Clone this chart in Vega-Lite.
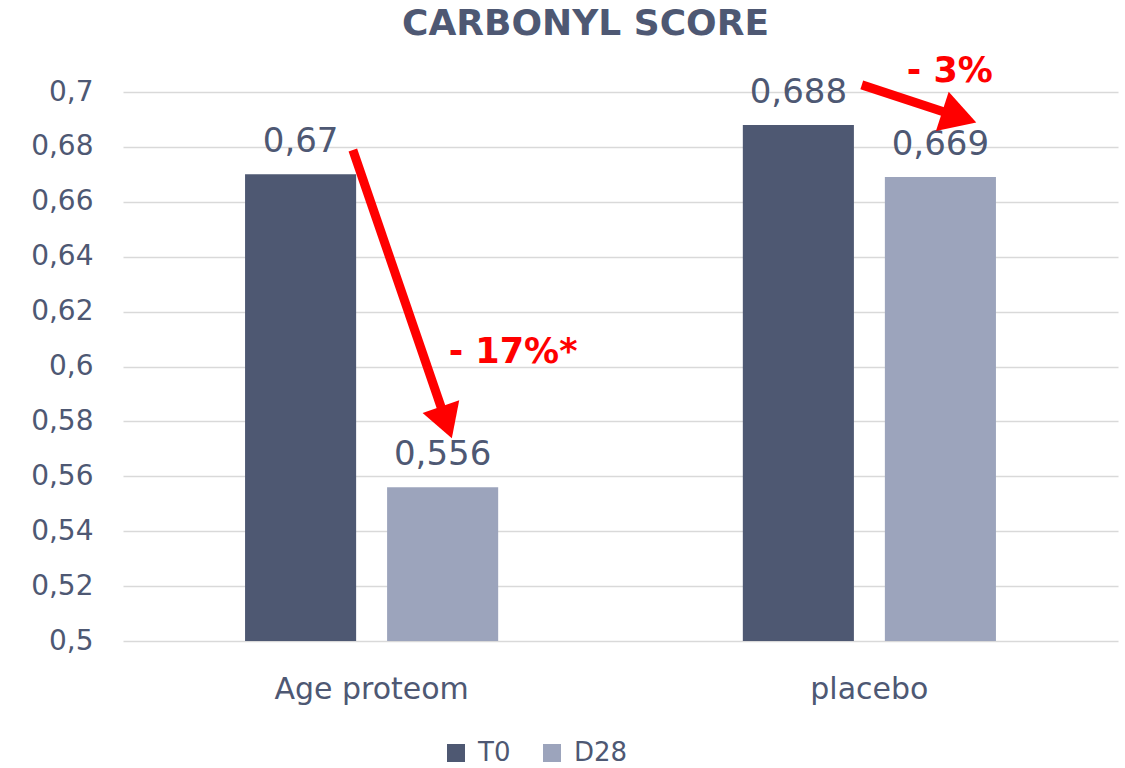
{
  "$schema": "https://vega.github.io/schema/vega-lite/v6.json",
  "width": 995,
  "height": 549,
  "autosize": {"type": "none"},
  "padding": {"left": 123, "top": 92, "right": 7, "bottom": 127},
  "background": "white",
  "config": {
    "view": {"stroke": null},
    "font": "DejaVu Sans",
    "locale": {"number": {"decimal": ",", "thousands": ".", "grouping": [3], "currency": ["", " €"]}}
  },
  "title": {
    "text": "CARBONYL SCORE",
    "fontSize": 36,
    "fontWeight": "bold",
    "color": "#4E5873",
    "anchor": "middle",
    "dx": -35,
    "baseline": "alphabetic",
    "offset": -17
  },
  "datasets": {
    "bars": [
      {"group": "Age proteom", "time": "T0", "value": 0.67},
      {"group": "Age proteom", "time": "D28", "value": 0.556},
      {"group": "placebo", "time": "T0", "value": 0.688},
      {"group": "placebo", "time": "D28", "value": 0.669}
    ],
    "arrows": [
      {"id": "a1", "x0": 0.462, "y0": 0.6789, "x1": 0.65, "y1": 0.5796},
      {"id": "a2", "x0": 1.485, "y0": 0.7026, "x1": 1.681, "y1": 0.6909}
    ],
    "notes": [
      {"note": "- 17%*", "tx": 0.784, "ty": 0.6013},
      {"note": "- 3%", "tx": 1.662, "ty": 0.7036}
    ]
  },
  "layer": [
    {
      "data": {"name": "bars"},
      "layer": [
        {
          "mark": {"type": "bar"},
          "encoding": {
            "x": {
              "field": "group", "type": "nominal", "sort": ["Age proteom", "placebo"],
              "scale": {"paddingInner": 0.4915, "paddingOuter": 0.2452},
              "axis": {"title": null, "labelFontSize": 30, "labelColor": "#4E5873", "labelPadding": 33, "labelLimit": 0, "ticks": false, "tickSize": 0, "domain": false, "labelAngle": 0, "grid": false}
            },
            "xOffset": {"field": "time", "type": "nominal", "sort": ["T0", "D28"], "scale": {"paddingInner": 0.218, "paddingOuter": 0}},
            "y": {
              "field": "value", "type": "quantitative", "title": null,
              "scale": {"domain": [0.5, 0.7], "nice": false, "zero": false},
              "axis": {"title": null, "values": [0.5, 0.52, 0.54, 0.56, 0.58, 0.6, 0.62, 0.64, 0.66, 0.68, 0.7], "format": ".2~f", "labelFontSize": 28, "labelColor": "#4E5873", "labelPadding": 30, "ticks": false, "tickSize": 0, "domain": false, "grid": true, "gridColor": "#D9D9D9", "gridWidth": 1.5}
            },
            "y2": {"datum": 0.5},
            "color": {
              "field": "time", "type": "nominal", "sort": ["T0", "D28"],
              "scale": {"domain": ["T0", "D28"], "range": ["#4E5872", "#9CA4BC"]},
              "legend": {"title": null, "orient": "none", "legendX": 320, "legendY": 648, "direction": "horizontal", "symbolType": "square", "symbolSize": 324, "symbolStrokeWidth": 0, "symbolOpacity": 1, "labelFontSize": 26, "labelColor": "#4E5873", "labelOffset": 9, "labelLimit": 0, "columnPadding": 28, "padding": 0, "labelExpr": "datum.value === 'D28' ? '\u00a0\u00a0\u00a0D28' : datum.label"}
            }
          }
        },
        {
          "mark": {"type": "text", "align": "center", "baseline": "alphabetic", "dy": -22, "fontSize": 34, "color": "#4E5873"},
          "encoding": {
            "x": {"field": "group", "type": "nominal", "sort": ["Age proteom", "placebo"], "scale": {"paddingInner": 0.4915, "paddingOuter": 0.2452}},
            "xOffset": {"field": "time", "type": "nominal", "sort": ["T0", "D28"], "scale": {"paddingInner": 0.218, "paddingOuter": 0}},
            "y": {"field": "value", "type": "quantitative", "title": null, "scale": {"domain": [0.5, 0.7], "nice": false, "zero": false}},
            "text": {"field": "value", "type": "quantitative", "format": ".3~f"}
          }
        }
      ]
    },
    {
      "layer": [
        {
          "data": {"name": "arrows"},
          "mark": {"type": "rule", "color": "#FF0000", "strokeWidth": 9, "strokeCap": "butt"},
          "encoding": {
            "x": {"field": "x0", "type": "quantitative", "scale": {"domain": [0, 2], "nice": false, "zero": false}, "axis": null},
            "y": {"field": "y0", "type": "quantitative", "title": null, "scale": {"domain": [0.5, 0.7], "nice": false, "zero": false}},
            "x2": {"field": "x1"},
            "y2": {"field": "y1"}
          }
        },
        {
          "data": {"name": "arrows"},
          "transform": [{"filter": "datum.id == 'a1'"}],
          "mark": {"type": "point", "shape": "triangle-up", "filled": true, "color": "#FF0000", "opacity": 1, "size": 1500, "angle": 161},
          "encoding": {
            "x": {"field": "x1", "type": "quantitative", "scale": {"domain": [0, 2], "nice": false, "zero": false}, "axis": null},
            "y": {"field": "y1", "type": "quantitative", "title": null, "scale": {"domain": [0.5, 0.7], "nice": false, "zero": false}}
          }
        },
        {
          "data": {"name": "arrows"},
          "transform": [{"filter": "datum.id == 'a2'"}],
          "mark": {"type": "point", "shape": "triangle-up", "filled": true, "color": "#FF0000", "opacity": 1, "size": 1700, "angle": 108},
          "encoding": {
            "x": {"field": "x1", "type": "quantitative", "scale": {"domain": [0, 2], "nice": false, "zero": false}, "axis": null},
            "y": {"field": "y1", "type": "quantitative", "title": null, "scale": {"domain": [0.5, 0.7], "nice": false, "zero": false}}
          }
        },
        {
          "data": {"name": "notes"},
          "mark": {"type": "text", "align": "center", "baseline": "alphabetic", "fontSize": 35, "fontWeight": "bold", "color": "#FF0000"},
          "encoding": {
            "x": {"field": "tx", "type": "quantitative", "scale": {"domain": [0, 2], "nice": false, "zero": false}, "axis": null},
            "y": {"field": "ty", "type": "quantitative", "title": null, "scale": {"domain": [0.5, 0.7], "nice": false, "zero": false}},
            "text": {"field": "note", "type": "nominal"}
          }
        }
      ]
    }
  ],
  "resolve": {"scale": {"x": "independent"}}
}
